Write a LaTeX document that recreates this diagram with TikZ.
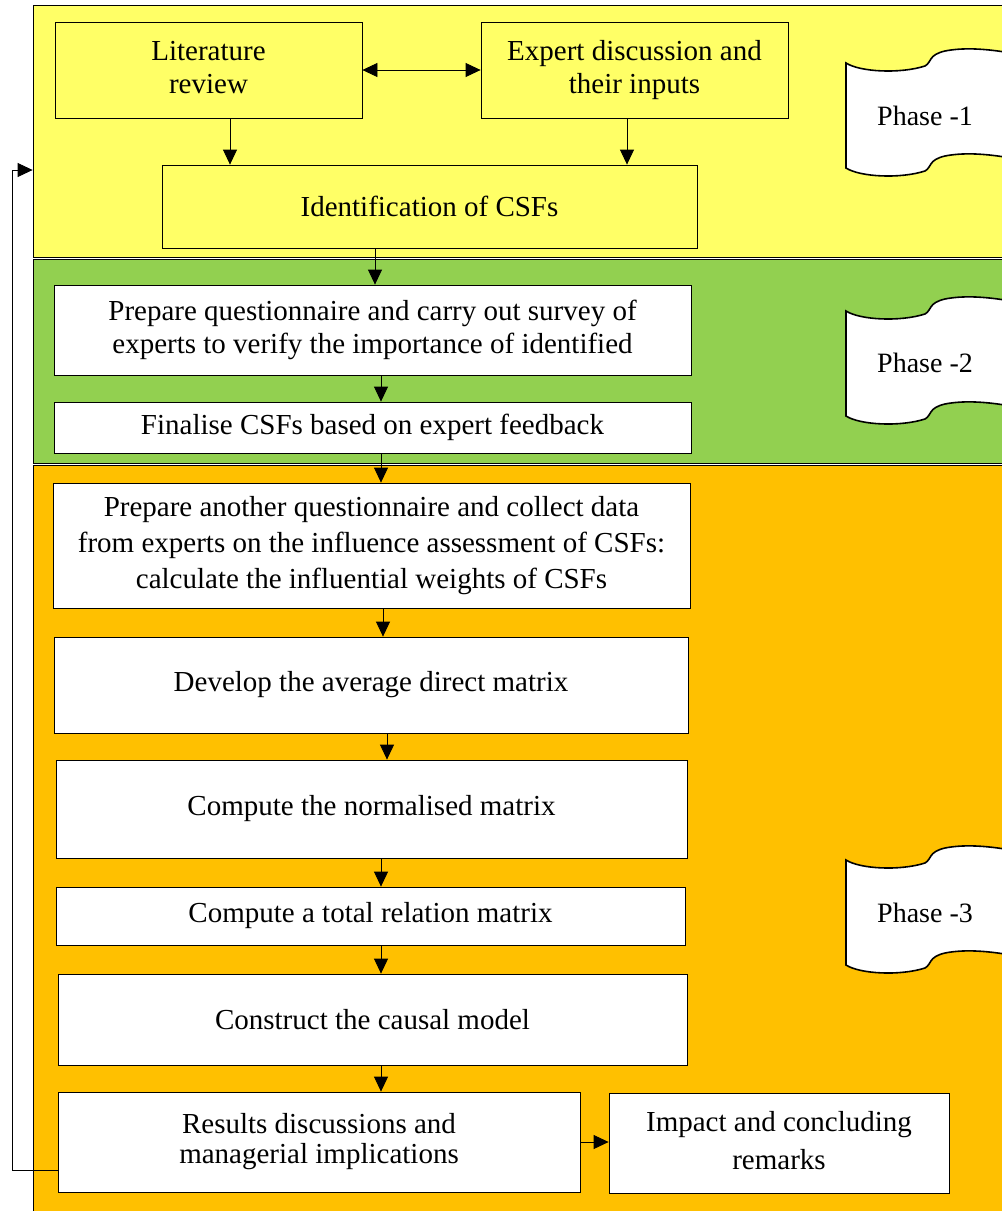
\documentclass[tikz,border=0pt]{standalone}
\usepackage{fontspec}
\setmainfont{Liberation Serif}
\usetikzlibrary{arrows.meta}
\definecolor{pyellow}{HTML}{FFFF66}
\definecolor{pgreen}{HTML}{92D050}
\definecolor{porange}{HTML}{FFC000}
\begin{document}
\begin{tikzpicture}[x=1pt,y=-1pt,
  txt/.style={font=\fontsize{29}{34}\selectfont},
  box/.style={txt, draw=black, fill=white, line width=0.8pt, align=center, inner sep=0pt},
  band/.style={draw=black, line width=0.8pt, inner sep=0pt, minimum width=977pt},
  arr/.style={-{Triangle[length=15pt,width=14pt]}, line width=0.8pt},
  darr/.style={{Triangle[length=15pt,width=14pt]}-{Triangle[length=15pt,width=14pt]}, line width=0.8pt},
  phasetxt/.style={font=\fontsize{28}{30}\selectfont, inner sep=0pt},
  phaseflag/.pic={
    \draw[fill=white, line width=1.6pt]
      (0,0) .. controls (14,9) and (54,11) .. (79,3)
      .. controls (86,-1) and (82,-8) .. (99,-12)
      .. controls (119,-16) and (144,-14) .. (170,-9)
      -- (170,96)
      .. controls (144,91) and (119,89) .. (99,93)
      .. controls (82,97) and (86,104) .. (79,108)
      .. controls (54,116) and (14,114) .. (0,105) -- cycle;
  }]
\clip (0,0) rectangle (1002,1211);
\fill[white] (0,0) rectangle (1002,1211);
% phase bands
\node[band, fill=pyellow, minimum height=252pt] (band1) at (521.5,131) {};
\node[band, fill=pgreen, minimum height=204pt] (band2) at (521.5,361) {};
\node[band, fill=porange, minimum height=760pt] (band3) at (521.5,845) {};
% phase flags
\pic at (846,63) {phaseflag};
\node[phasetxt] (ph1) at (925,116) {Phase -1};
\pic at (846,311) {phaseflag};
\node[phasetxt] (ph2) at (925,363) {Phase -2};
\pic at (846,860) {phaseflag};
\node[phasetxt] (ph3) at (925,913) {Phase -3};
% boxes
\node[box, fill=pyellow, minimum width=307pt, minimum height=96pt] (lit) at (208.5,70) {\raisebox{7pt}{\begin{tabular}{@{}c@{}}Literature\\[-1pt]review\end{tabular}}};
\node[box, fill=pyellow, minimum width=307pt, minimum height=96pt] (exp) at (634.5,70) {\raisebox{7pt}{\begin{tabular}{@{}c@{}}Expert discussion and\\[-1pt]their inputs\end{tabular}}};
\node[box, fill=pyellow, minimum width=535pt, minimum height=83pt] (id) at (429.5,206.5) {Identification of CSFs};
\node[box, font=\fontsize{29}{33}\selectfont, minimum width=637pt, minimum height=90pt] (pq) at (372.5,330) {Prepare questionnaire and carry out survey of\\experts to verify the importance of identified};
\node[box, minimum width=637pt, minimum height=51pt] (fin) at (372.5,427.5) {Finalise CSFs based on expert feedback};
\node[box, font=\fontsize{29}{36}\selectfont, minimum width=637pt, minimum height=125pt] (aq) at (371.5,545.5) {Prepare another questionnaire and collect data\\from experts on the influence assessment of CSFs:\\calculate the influential weights of CSFs};
\node[box, minimum width=634pt, minimum height=96pt] (dev) at (371,685) {Develop the average direct matrix};
\node[box, minimum width=631pt, minimum height=98pt] (norm) at (371.5,809) {Compute the normalised matrix};
\node[box, minimum width=629pt, minimum height=58pt] (tot) at (370.5,916) {Compute a total relation matrix};
\node[box, minimum width=629pt, minimum height=91pt] (caus) at (372.5,1019.5) {Construct the causal model};
\node[box, font=\fontsize{29}{32}\selectfont, minimum width=522pt, minimum height=100pt] (res) at (319,1142) {\raisebox{3pt}{\begin{tabular}{@{}c@{}}Results discussions and\\[-2pt]managerial implications\end{tabular}}};
\node[box, font=\fontsize{29}{36}\selectfont, minimum width=340pt, minimum height=100pt] (imp) at (779,1143) {\raisebox{3pt}{\begin{tabular}{@{}c@{}}Impact and concluding\\[2pt]remarks\end{tabular}}};
% helper coordinates
\coordinate (xa) at (230,0);
\coordinate (xb) at (627,0);
\coordinate (xc) at (375,0);
\coordinate (xd) at (381,0);
\coordinate (xe) at (383,0);
\coordinate (xf) at (387,0);
\coordinate (fb) at (12,170);
% connectors
\draw[darr] (lit.east) -- (lit.east -| exp.west);
\draw[arr] (lit.south -| xa) -- (id.north -| xa);
\draw[arr] (exp.south -| xb) -- (id.north -| xb);
\draw[arr] (id.south -| xc) -- (pq.north -| xc);
\draw[arr] (pq.south -| xd) -- (fin.north -| xd);
\draw[arr] (fin.south -| xd) -- (aq.north -| xd);
\draw[arr] (aq.south -| xe) -- (dev.north -| xe);
\draw[arr] (dev.south -| xf) -- (norm.north -| xf);
\draw[arr] (norm.south -| xd) -- (tot.north -| xd);
\draw[arr] (tot.south -| xd) -- (caus.north -| xd);
\draw[arr] (caus.south -| xd) -- (res.north -| xd);
\draw[arr] (res.east) -- (res.east -| imp.west);
\draw[arr] ([yshift=-28pt]res.west) -| (fb) -- (band1.west |- fb);
\end{tikzpicture}
\end{document}
